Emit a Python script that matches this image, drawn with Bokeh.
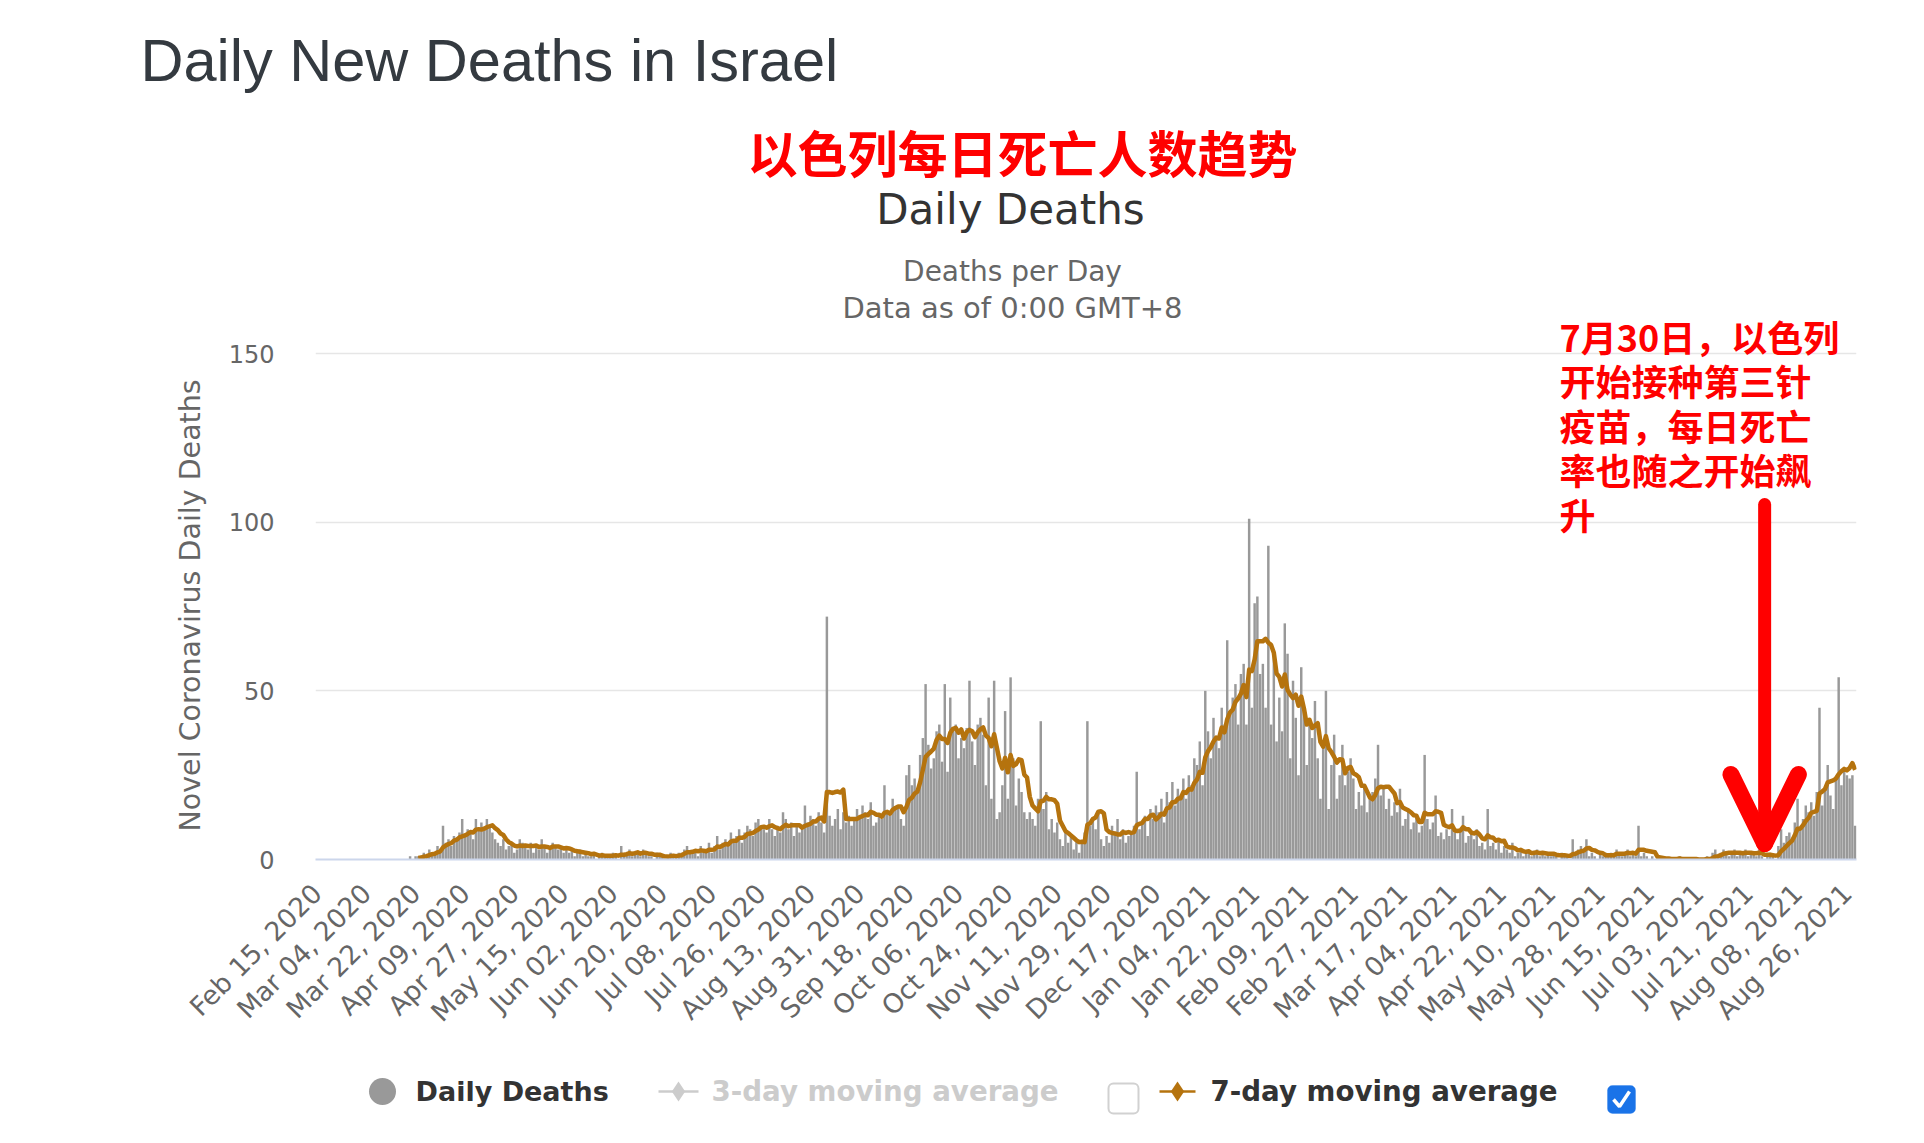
import math
import numpy as np
import pandas as pd
from bokeh.plotting import figure
from bokeh.models import Range1d, FixedTicker, Label, BoxAnnotation, ColumnDataSource, Title
from bokeh.layouts import column
from bokeh.embed import file_html
from bokeh.resources import INLINE
from bokeh.core.properties import value

# ---------------- data ----------------
AXIS_START = "2020-02-15"      # first category on the x axis
N_DAYS = 562                   # Feb 15, 2020 .. Aug 29, 2021
DATA_START = "2020-03-17"      # first reported day

deaths_2020_03 = [0, 0, 0, 1, 0, 1, 1, 1, 2, 1, 3, 2, 2, 4, 3]  # from Mar 17
deaths_2020_04 = [10, 5, 6, 4, 7, 6, 8, 12, 7, 9, 8, 6, 12, 9, 11, 9, 12, 10, 8, 6,
                  5, 4, 6, 3, 4, 5, 2, 3, 6, 5]
deaths_2020_05 = [4, 3, 5, 2, 4, 3, 6, 4, 2, 3, 5, 4, 3, 4, 2, 3, 2, 3, 1, 2,
                  3, 1, 2, 1, 1, 2, 0, 1, 2, 1, 1]
deaths_2020_06 = [1, 2, 1, 0, 4, 1, 2, 3, 1, 2, 2, 1, 3, 2, 1, 1, 0, 2, 1, 1,
                  0, 1, 2, 1, 1, 2, 2, 3, 4, 2]
deaths_2020_07 = [2, 3, 1, 4, 2, 3, 5, 2, 4, 7, 3, 5, 6, 4, 8, 6, 7, 9, 5, 8,
                  10, 9, 7, 11, 12, 10, 9, 8, 12, 9, 7]
deaths_2020_08 = [10, 8, 14, 12, 9, 11, 7, 10, 8, 9, 16, 11, 13, 12, 10, 14, 11, 8, 72, 13,
                  10, 12, 15, 9, 14, 11, 13, 10, 12, 15, 13]
deaths_2020_09 = [16, 14, 12, 17, 10, 11, 13, 12, 22, 14, 13, 18, 15, 16, 12, 10, 25, 28, 22, 24,
                  20, 31, 36, 52, 34, 27, 30, 38, 40, 29]
deaths_2020_10 = [52, 26, 48, 38, 40, 30, 36, 33, 39, 53, 35, 28, 40, 42, 37, 22, 48, 18, 53, 12,
                  14, 22, 44, 18, 54, 30, 16, 24, 20, 14, 12]
deaths_2020_11 = [14, 12, 10, 18, 41, 15, 20, 9, 12, 8, 11, 6, 4, 9, 5, 7, 3, 6, 2, 5,
                  8, 41, 10, 12, 9, 14, 6, 4, 7, 5]
deaths_2020_12 = [10, 8, 12, 6, 9, 5, 7, 8, 10, 26, 9, 11, 13, 7, 15, 12, 16, 14, 18, 11,
                  20, 17, 23, 16, 21, 19, 24, 18, 25, 22, 30]
deaths_2021_01 = [28, 35, 22, 50, 38, 30, 42, 36, 33, 45, 40, 65, 44, 48, 52, 40, 55, 58, 40, 101,
                  45, 76, 78, 55, 58, 45, 93, 40, 60, 35, 48]
deaths_2021_02 = [38, 70, 61, 30, 53, 42, 25, 57, 45, 28, 40, 36, 47, 30, 18, 35, 50, 15, 28, 37,
                  18, 25, 34, 22, 26, 30, 24, 15]
deaths_2021_03 = [20, 16, 22, 14, 18, 20, 24, 34, 19, 21, 15, 18, 13, 17, 14, 21, 10, 12, 15, 9,
                  11, 13, 8, 10, 31, 12, 9, 11, 19, 7, 8]
deaths_2021_04 = [6, 9, 7, 15, 8, 6, 9, 13, 5, 7, 8, 6, 9, 4, 5, 3, 15, 4, 5, 3,
                  6, 2, 4, 3, 2, 5, 1, 2, 3, 1]
deaths_2021_05 = [2, 3, 1, 2, 3, 1, 2, 1, 2, 1, 2, 1, 0, 2, 1, 1, 0, 6, 2, 3,
                  4, 2, 6, 1, 2, 1, 0, 2, 1, 2, 1]
deaths_2021_06 = [2, 1, 3, 2, 1, 2, 3, 1, 2, 1, 10, 1, 2, 1, 0, 1, 0, 0, 0, 1,
                  0, 0, 0, 0, 0, 1, 0, 0, 0, 0]
deaths_2021_07 = [0, 0, 0, 0, 0, 1, 0, 2, 3, 1, 2, 3, 2, 1, 2, 3, 1, 2, 2, 3,
                  1, 2, 2, 1, 3, 1, 0, 1, 2, 1, 0]
deaths_2021_08 = [4, 9, 5, 7, 8, 6, 11, 18, 9, 12, 16, 14, 17, 13, 20, 45, 16, 21, 28, 19,
                  15, 24, 54, 22, 26, 25, 24, 25, 10]  # to Aug 29

tick_labels = ["Feb 15, 2020", "Mar 04, 2020", "Mar 22, 2020", "Apr 09, 2020", "Apr 27, 2020",
               "May 15, 2020", "Jun 02, 2020", "Jun 20, 2020", "Jul 08, 2020", "Jul 26, 2020",
               "Aug 13, 2020", "Aug 31, 2020", "Sep 18, 2020", "Oct 06, 2020", "Oct 24, 2020",
               "Nov 11, 2020", "Nov 29, 2020", "Dec 17, 2020", "Jan 04, 2021", "Jan 22, 2021",
               "Feb 09, 2021", "Feb 27, 2021", "Mar 17, 2021", "Apr 04, 2021", "Apr 22, 2021",
               "May 10, 2021", "May 28, 2021", "Jun 15, 2021", "Jul 03, 2021", "Jul 21, 2021",
               "Aug 08, 2021", "Aug 26, 2021"]

y_ticks = [0, 50, 100, 150]
ARROW_DATE = "2021-07-27"

note_lines = ["7月30日，以色列", "开始接种第三针", "疫苗，每日死亡", "率也随之开始飙", "升"]

# ---------------- assemble ----------------
dates = pd.date_range(AXIS_START, periods=N_DAYS, freq="D")
reported = (deaths_2020_03 + deaths_2020_04 + deaths_2020_05 + deaths_2020_06 + deaths_2020_07 +
            deaths_2020_08 + deaths_2020_09 + deaths_2020_10 + deaths_2020_11 + deaths_2020_12 +
            deaths_2021_01 + deaths_2021_02 + deaths_2021_03 + deaths_2021_04 + deaths_2021_05 +
            deaths_2021_06 + deaths_2021_07 + deaths_2021_08)
lead = int((pd.Timestamp(DATA_START) - pd.Timestamp(AXIS_START)).days)
daily = pd.Series([np.nan] * lead + [float(v) for v in reported], index=dates)
assert len(daily) == N_DAYS
avg7 = daily.rolling(7, min_periods=7).mean()

src = ColumnDataSource(dict(x=np.arange(N_DAYS), deaths=daily.values, avg=avg7.values))

tick_idx = [int(dates.get_loc(pd.to_datetime(t, format="%b %d, %Y"))) for t in tick_labels]

# ---------------- layout constants (figure pixels) ----------------
FIG_W = 1908
MAIN_H = 1050
LEG_H = 77
FRAME_L, FRAME_R = 315, 1856
FRAME_T = 107                 # frame extended upward to hold the header texts
GRID_T, FRAME_B = 353, 859    # pixel rows of the 150 and 0 gridlines
Y_MAX = 150
Y_TOP = Y_MAX * (FRAME_B - FRAME_T) / (FRAME_B - GRID_T)

def dx(fx):
    return (fx - FRAME_L) / (FRAME_R - FRAME_L) * N_DAYS - 0.5

def dy(fy):
    return (FRAME_B - fy) / (FRAME_B - GRID_T) * Y_MAX

p = figure(width=FIG_W, height=MAIN_H, x_range=Range1d(-0.5, N_DAYS - 0.5),
           y_range=Range1d(0, Y_TOP), toolbar_location=None, tools="",
           output_backend="svg",
           min_border_left=FRAME_L, min_border_right=FIG_W - FRAME_R,
           min_border_top=FRAME_T, min_border_bottom=MAIN_H - FRAME_B)
p.outline_line_color = None
p.background_fill_color = "white"
p.border_fill_color = "white"

p.vbar(x="x", top="deaths", width=0.9, source=src, fill_color="#999999", line_color=None)
p.line(x="x", y="avg", source=src, line_color="#b5730e", line_width=4.5, line_join="round")

# axes
p.xgrid.visible = False
p.ygrid.grid_line_color = "#e6e6e6"
p.ygrid.grid_line_width = 1.5
p.yaxis.ticker = FixedTicker(ticks=y_ticks, minor_ticks=[])
p.yaxis.axis_line_color = None
p.yaxis.major_tick_line_color = None
p.yaxis.minor_tick_line_color = None
p.yaxis.major_tick_out = 0
p.yaxis.major_tick_in = 0
p.yaxis.major_label_standoff = 41
p.yaxis.major_label_text_font = "DejaVu Sans"
p.yaxis.major_label_text_font_size = "24px"
p.yaxis.major_label_text_color = "#666666"

p.xaxis.ticker = FixedTicker(ticks=tick_idx, minor_ticks=[])
p.xaxis.major_label_overrides = {i: t for i, t in zip(tick_idx, tick_labels)}
p.xaxis.major_label_orientation = math.pi / 4
p.xaxis.axis_line_color = "#ccd6eb"
p.xaxis.axis_line_width = 2
p.xaxis.major_tick_line_color = None
p.xaxis.minor_tick_line_color = None
p.xaxis.major_tick_out = 0
p.xaxis.major_tick_in = 0
p.xaxis.major_label_standoff = 29
p.xaxis.major_label_text_font = "DejaVu Sans"
p.xaxis.major_label_text_font_size = "26.5px"
p.xaxis.major_label_text_color = "#666666"

# y-axis title (placed as a side title so it can sit low like the original)
p.add_layout(Title(text="Novel Coronavirus Daily Deaths", align="left", offset=28,
                   standoff=38, text_font="DejaVu Sans", text_font_size="28.5px",
                   text_font_style="normal", text_color="#666666"), "left")

# page title
p.add_layout(Title(text="Daily New Deaths in Israel", align="left", offset=-175,
                   standoff=27, text_font="Liberation Sans", text_font_size="59.5px",
                   text_font_style="normal", text_color="#343a40"), "above")

def add_label(fx, fy, text, size, color, font, style="normal", align="left", baseline="alphabetic"):
    p.add_layout(Label(x=dx(fx), y=dy(fy), text=text, text_font=font, text_font_size=size,
                       text_font_style=style, text_color=color, text_align=align,
                       text_baseline=baseline))

add_label(1022, 150.5, "以色列每日死亡人数趋势", "50px", "#ff0000", "Noto Sans CJK SC",
          style="bold", align="center", baseline="middle")
add_label(1010, 209, "Daily Deaths", "42px", "#333333", "DejaVu Sans", align="center")
add_label(1012, 270.5, "Deaths per Day", "28px", "#666666", "DejaVu Sans", align="center")
add_label(1012, 307.5, "Data as of 0:00 GMT+8", "29px", "#666666", "DejaVu Sans", align="center")

for k, line in enumerate(note_lines):
    add_label(1559, 335 + 44.5 * k, line, "36px", "#ff0000", "Noto Sans CJK SC",
              style="bold", baseline="middle")

# red arrow
ax = float(dates.get_loc(pd.Timestamp(ARROW_DATE)))
tip = dy(843)
p.segment(x0=[ax], y0=[dy(504)], x1=[ax], y1=[tip], line_color="#ff0000",
          line_width=13, line_cap="round")
p.segment(x0=[ax - 12.3, ax + 12.3], y0=[dy(774)] * 2, x1=[ax, ax], y1=[tip, tip],
          line_color="#ff0000", line_width=17, line_cap="round")

# ---------------- legend strip ----------------
leg = figure(width=FIG_W, height=LEG_H, x_range=Range1d(FRAME_L, FRAME_R), y_range=Range1d(0, LEG_H),
             toolbar_location=None, tools="", output_backend="svg", min_border=0,
             x_axis_location=None, y_axis_location=None)
leg.grid.visible = False
leg.outline_line_color = None

LY = 36
leg.scatter(x=[382], y=[LY], marker="circle", size=27, fill_color="#999999", line_color=None)
leg.line(x=[658, 698], y=[LY, LY], line_color="#cccccc", line_width=2.5)
leg.scatter(x=[678], y=[LY], marker="diamond", size=20, fill_color="#cccccc", line_color=None)
leg.line(x=[1159, 1195], y=[LY, LY], line_color="#b5730e", line_width=2.5)
leg.scatter(x=[1177], y=[LY], marker="diamond", size=20, fill_color="#b5730e", line_color=None)
leg.text(x=[415], y=[LY], text=["Daily Deaths"], text_color="#333333",
         text_font=value("DejaVu Sans"), text_font_style="bold", text_font_size="27px",
         text_baseline="middle")
leg.text(x=[711, 1210], y=[LY] * 2, text=["3-day moving average", "7-day moving average"],
         text_color=["#cccccc", "#333333"], text_font=value("DejaVu Sans"),
         text_font_style="bold", text_font_size="27.7px", text_baseline="middle")
leg.add_layout(BoxAnnotation(left=1108, right=1138, bottom=14, top=44, fill_color="white",
                             fill_alpha=1, line_color="#666666", line_width=2,
                             border_radius=5))
leg.add_layout(BoxAnnotation(left=1607, right=1635, bottom=14, top=42, fill_color="#1a73e8",
                             fill_alpha=1, line_color="#1a73e8", line_width=1,
                             border_radius=5))
leg.line(x=[1613, 1619, 1629], y=[28, 21, 36], line_color="white", line_width=3.5,
         level="overlay")

layout = column(p, leg)
open("out.html", "w").write(file_html(layout, INLINE))
